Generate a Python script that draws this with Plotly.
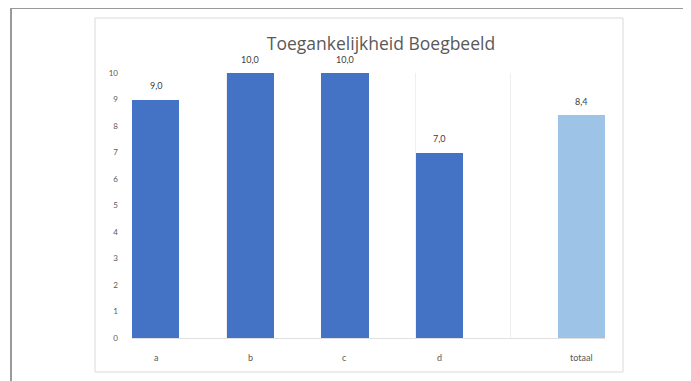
import plotly.graph_objects as go

categories = ["a", "b", "c", "d", "totaal"]
scores = [9.0, 10.0, 10.0, 7.0, None]
total = [None, None, None, None, 8.4]
y_ticks = [0, 1, 2, 3, 4, 5, 6, 7, 8, 9, 10]
title_text = "Toegankelijkheid Boegbeeld"


def fmt(v):
    return f"{v:.1f}".replace(".", ",")


# page body has an 8px margin: work in page pixels and shift
OFF = 8
W, H = 691 - OFF, 381 - OFF
L, R, T, B = 132 - OFF, 605 - OFF, 73 - OFF, 338 - OFF


def px(x):
    return (x - OFF - L) / (R - L)


def py(y):
    return (B - (y - OFF)) / (B - T)


fig = go.Figure()
fig.add_trace(go.Bar(x=categories, y=scores, marker=dict(color="#4472C4", line=dict(width=0)),
                     showlegend=False, hoverinfo="x+y"))
fig.add_trace(go.Bar(x=categories, y=total, marker=dict(color="#9DC3E6", line=dict(width=0)),
                     showlegend=False, hoverinfo="x+y"))

half = (R - L) / len(categories) / 4  # offset of each bar from category centre

annotations = []
for cat, s, t in zip(categories, scores, total):
    if s is not None:
        annotations.append(dict(x=cat, y=s, xref="x", yref="y", text=fmt(s), showarrow=False,
                                yanchor="middle", yshift=14, xshift=-half,
                                font=dict(size=9, color="#404040")))
        annotations.append(dict(x=cat, y=0, xref="x", yref="y", text=cat, showarrow=False,
                                yanchor="middle", yshift=-19, xshift=-half,
                                font=dict(size=9, color="#595959")))
    if t is not None:
        annotations.append(dict(x=cat, y=t, xref="x", yref="y", text=fmt(t), showarrow=False,
                                yanchor="middle", yshift=14, xshift=half,
                                font=dict(size=9, color="#404040")))
        annotations.append(dict(x=cat, y=0, xref="x", yref="y", text=cat, showarrow=False,
                                yanchor="middle", yshift=-19, xshift=half,
                                font=dict(size=9, color="#595959")))

shapes = [
    dict(type="rect", xref="paper", yref="paper", x0=px(95), x1=px(623), y0=py(372), y1=py(18),
         line=dict(color="#d9d9d9", width=1), fillcolor="rgba(0,0,0,0)", layer="below"),
    dict(type="line", xref="paper", yref="paper", x0=px(11), x1=px(11), y0=py(8), y1=py(381),
         line=dict(color="#9a9a9a", width=2)),
    dict(type="line", xref="paper", yref="paper", x0=px(11), x1=px(691), y0=py(8), y1=py(8),
         line=dict(color="#9a9a9a", width=2)),
]

fig.update_layout(
    width=W, height=H,
    margin=dict(l=L, r=W - R, t=T, b=H - B),
    paper_bgcolor="white", plot_bgcolor="white",
    barmode="group", bargap=0, bargroupgap=0,
    font=dict(family="Lato, Open Sans, sans-serif", color="#595959", size=9),
    title=dict(text=title_text, x=px(381), xref="paper", xanchor="center",
               y=1 - (44 - OFF) / H, yref="container", yanchor="middle",
               font=dict(family="Open Sans, sans-serif", size=17.5, color="#595959")),
    shapes=shapes,
    annotations=annotations,
    xaxis=dict(type="category", tickson="boundaries", showgrid=True, gridcolor="#efefef",
               gridwidth=1, ticks="", showline=True, linecolor="#e0e0e0",
               showticklabels=False),
    yaxis=dict(range=[0, 10], tickvals=y_ticks, showgrid=False, zeroline=False,
               tickfont=dict(size=8, color="#595959"), ticklabelstandoff=13),
)

fig.write_html("out.html")
